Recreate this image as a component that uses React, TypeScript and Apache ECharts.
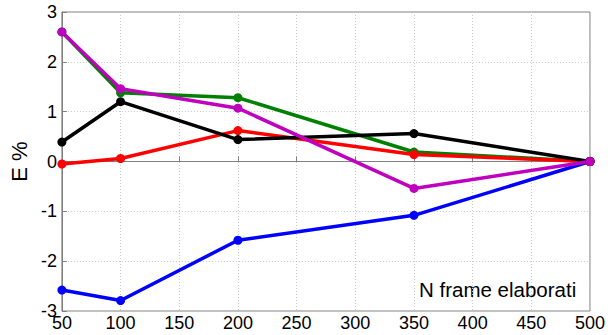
import React, { useEffect, useRef } from "react";
import * as echarts from "echarts";

const xValues = [50, 100, 200, 350, 500];
const blueSeries = [-2.58, -2.79, -1.58, -1.08, 0];
const greenSeries = [2.6, 1.38, 1.28, 0.19, 0];
const redSeries = [-0.05, 0.06, 0.62, 0.14, 0];
const blackSeries = [0.39, 1.2, 0.44, 0.56, 0];
const magentaSeries = [2.6, 1.46, 1.07, -0.54, 0];

const seriesList = [
  { name: "blue", color: "#0000ff", data: blueSeries },
  { name: "green", color: "#008000", data: greenSeries },
  { name: "red", color: "#ff0000", data: redSeries },
  { name: "black", color: "#000000", data: blackSeries },
  { name: "magenta", color: "#bf00bf", data: magentaSeries },
];

export default function App() {
  const ref = useRef<HTMLDivElement>(null);
  useEffect(() => {
    document.body.style.margin = "0";
    const chart = echarts.init(ref.current!, undefined, { renderer: "svg" });
    const font = "Liberation Sans, Arial, sans-serif";
    chart.setOption({
      animation: false,
      backgroundColor: "#ffffff",
      grid: {
        left: 54.5,
        right: 16,
        top: 12,
        bottom: 24,
        show: true,
        borderColor: "#808080",
        borderWidth: 1,
      },
      xAxis: {
        type: "value",
        min: 50,
        max: 500,
        interval: 50,
        axisLine: { show: true, lineStyle: { color: "#808080" } },
        axisTick: { show: true, inside: true, length: 5, lineStyle: { color: "#808080" } },
        splitLine: { show: true, lineStyle: { color: "#c8c8c8", type: [1, 2] } },
        axisLabel: { color: "#000", fontSize: 18, fontFamily: font, margin: 3 },
      },
      yAxis: {
        type: "value",
        min: -3,
        max: 3,
        interval: 1,
        name: "E %",
        nameLocation: "middle",
        nameGap: 27,
        nameRotate: 90,
        nameTextStyle: { color: "#000", fontSize: 22, fontFamily: font },
        axisLine: { show: true, lineStyle: { color: "#808080" } },
        axisTick: { show: true, inside: true, length: 5, lineStyle: { color: "#808080" } },
        splitLine: { show: true, lineStyle: { color: "#c8c8c8", type: [1, 2] } },
        axisLabel: { color: "#000", fontSize: 18, fontFamily: font, margin: 5 },
      },
      series: seriesList.map((s) => ({
        name: s.name,
        type: "line",
        data: xValues.map((x, i) => [x, s.data[i]]),
        symbol: "circle",
        symbolSize: 9,
        lineStyle: { color: s.color, width: 3.5 },
        itemStyle: { color: s.color },
        emphasis: { disabled: true },
      })),
      graphic: [
        {
          type: "text",
          left: 419,
          top: 279,
          style: {
            text: "N frame elaborati",
            fill: "#000",
            fontSize: 20.5,
            fontFamily: font,
          },
        },
      ],
    });
    return () => chart.dispose();
  }, []);
  return <div ref={ref} style={{ width: 608, height: 335 }} />;
}
